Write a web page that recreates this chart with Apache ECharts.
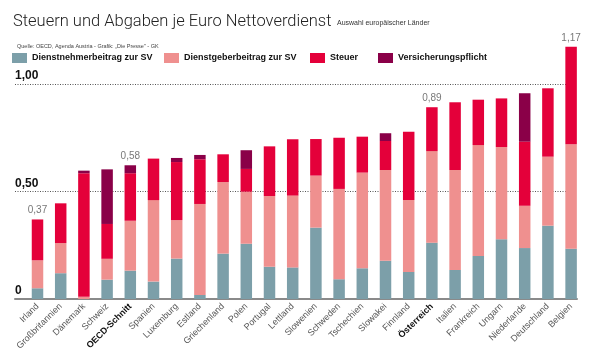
<!DOCTYPE html>
<html><head><meta charset="utf-8">
<script src="https://cdn.jsdelivr.net/npm/echarts@6/dist/echarts.min.js"></script>
<style>html,body{margin:0;padding:0;background:#fff}#c{width:600px;height:360px}</style>
</head><body><div id="c"></div>
<script>
const categories = ['Irland','Großbritannien','Dänemark','Schweiz','OECD-Schnitt','Spanien','Luxemburg','Estland','Griechenland','Polen','Portugal','Lettland','Slowenien','Schweden','Tschechien','Slowakei','Finnland','Österreich','Italien','Frankreich','Ungarn','Niederlande','Deutschland','Belgien'];
const boldCategories = ['OECD-Schnitt','Österreich'];
const dienstnehmer = [0.05,0.12,0,0.09,0.132,0.081,0.188,0.019,0.211,0.257,0.15,0.147,0.332,0.092,0.143,0.178,0.126,0.262,0.135,0.2,0.278,0.237,0.341,0.234];
const dienstgeber = [0.13,0.14,0.01,0.097,0.232,0.379,0.179,0.423,0.333,0.242,0.329,0.334,0.242,0.42,0.445,0.422,0.334,0.426,0.465,0.516,0.429,0.197,0.321,0.486];
const steuer = [0.19,0.185,0.575,0.162,0.221,0.193,0.27,0.208,0.129,0.106,0.231,0.262,0.17,0.238,0.167,0.135,0.318,0.204,0.315,0.211,0.226,0.298,0.318,0.453];
const versicherung = [0,0,0.012,0.254,0.037,0,0.019,0.02,0,0.087,0,0,0,0,0,0.036,0,0,0,0,0,0.225,0,0];
const totalLabels = ['0,37','','','','0,58','','','','','','','','','','','','','0,89','','','','','','1,17'];
const yTicks = [0, 0.5, 1.0];
const seriesNames = ['Dienstnehmerbeitrag zur SV','Dienstgeberbeitrag zur SV','Steuer','Versicherungspflicht'];
const colors = ['#7c9fa9','#ef908f','#e4003a','#8a0048'];

const FONT = '"Liberation Sans",Arial,sans-serif';
const totals = categories.map((c,i) => dienstnehmer[i]+dienstgeber[i]+steuer[i]+versicherung[i]);

const chart = echarts.init(document.getElementById('c'), null, {renderer:'canvas'});
const barBase = {type:'bar', stack:'a', barWidth:11.5, xAxisIndex:1, yAxisIndex:1};
const legendX = [12, 164, 310, 378];
const TOP = 299 - 1.2*215;
chart.setOption({
  animation:false,
  title:[
    {text:'Steuern und Abgaben je Euro Nettoverdienst', left:8, top:8, textStyle:{fontFamily:'Roboto', fontWeight:300, fontSize:16.5, color:'#222'}},
    {text:'Auswahl europäischer Länder', left:332, top:15, textStyle:{fontFamily:FONT, fontWeight:'normal', fontSize:7, color:'#333'}},
    {text:'Quelle: OECD, Agenda Austria - Grafik: „Die Presse" - GK', left:12, top:38, textStyle:{fontFamily:FONT, fontWeight:'normal', fontSize:5.5, color:'#444'}}
  ],
  legend: seriesNames.map((n,i)=>({data:[n], left:legendX[i], top:53, icon:'rect', itemWidth:15, itemHeight:10, itemGap:5, padding:0, textStyle:{fontFamily:FONT, fontWeight:'bold', fontSize:9, color:'#111'}, selectedMode:false})),
  grid:[
    {left:15, right:23, top:TOP, bottom:61},
    {left:25.9, right:17.3, top:TOP, bottom:61}
  ],
  xAxis:[
    {gridIndex:0, type:'value', min:0, max:1, axisLine:{show:true, onZero:false, lineStyle:{color:'#8a8a8a', width:2}},
      axisTick:{show:false}, splitLine:{show:false}, axisLabel:{show:false}},
    {gridIndex:1, type:'category', data:categories, axisLine:{show:false}, axisTick:{show:false},
      axisLabel:{rotate:45, margin:6, interval:0,
        formatter:n=> boldCategories.includes(n)?'{b|'+n+'}':n,
        fontFamily:FONT, fontSize:9, color:'#555',
        rich:{b:{fontFamily:FONT, fontSize:9, fontWeight:'bold', color:'#111'}}}}
  ],
  yAxis:[
    {gridIndex:0, type:'value', min:0, max:1.2, interval:0.5,
      axisLine:{show:false}, axisTick:{show:false},
      splitLine:{show:true, showMinLine:false, showMaxLine:false, lineStyle:{type:[1,1.5], color:'#555', width:1}},
      axisLabel:{inside:true, margin:0, verticalAlign:'bottom', padding:[0,0,2,0],
        customValues:yTicks,
        formatter:v=> v===0?'0':v.toFixed(2).replace('.',','),
        fontFamily:FONT, fontWeight:'bold', fontSize:12, color:'#111'}},
    {gridIndex:1, type:'value', min:0, max:1.2, show:false, splitLine:{show:false}}
  ],
  series:[
    Object.assign({name:seriesNames[0], data:dienstnehmer, itemStyle:{color:colors[0]}}, barBase),
    Object.assign({name:seriesNames[1], data:dienstgeber, itemStyle:{color:colors[1]}}, barBase),
    Object.assign({name:seriesNames[2], data:steuer, itemStyle:{color:colors[2]}}, barBase),
    Object.assign({name:seriesNames[3], data:versicherung, itemStyle:{color:colors[3]}}, barBase),
    {type:'scatter', xAxisIndex:1, yAxisIndex:1, symbolSize:0, data:totals, silent:true,
      label:{show:true, position:'top', distance:4, formatter:p=>totalLabels[p.dataIndex],
        fontFamily:FONT, fontSize:10, color:'#555'}}
  ]
});
</script></body></html>
